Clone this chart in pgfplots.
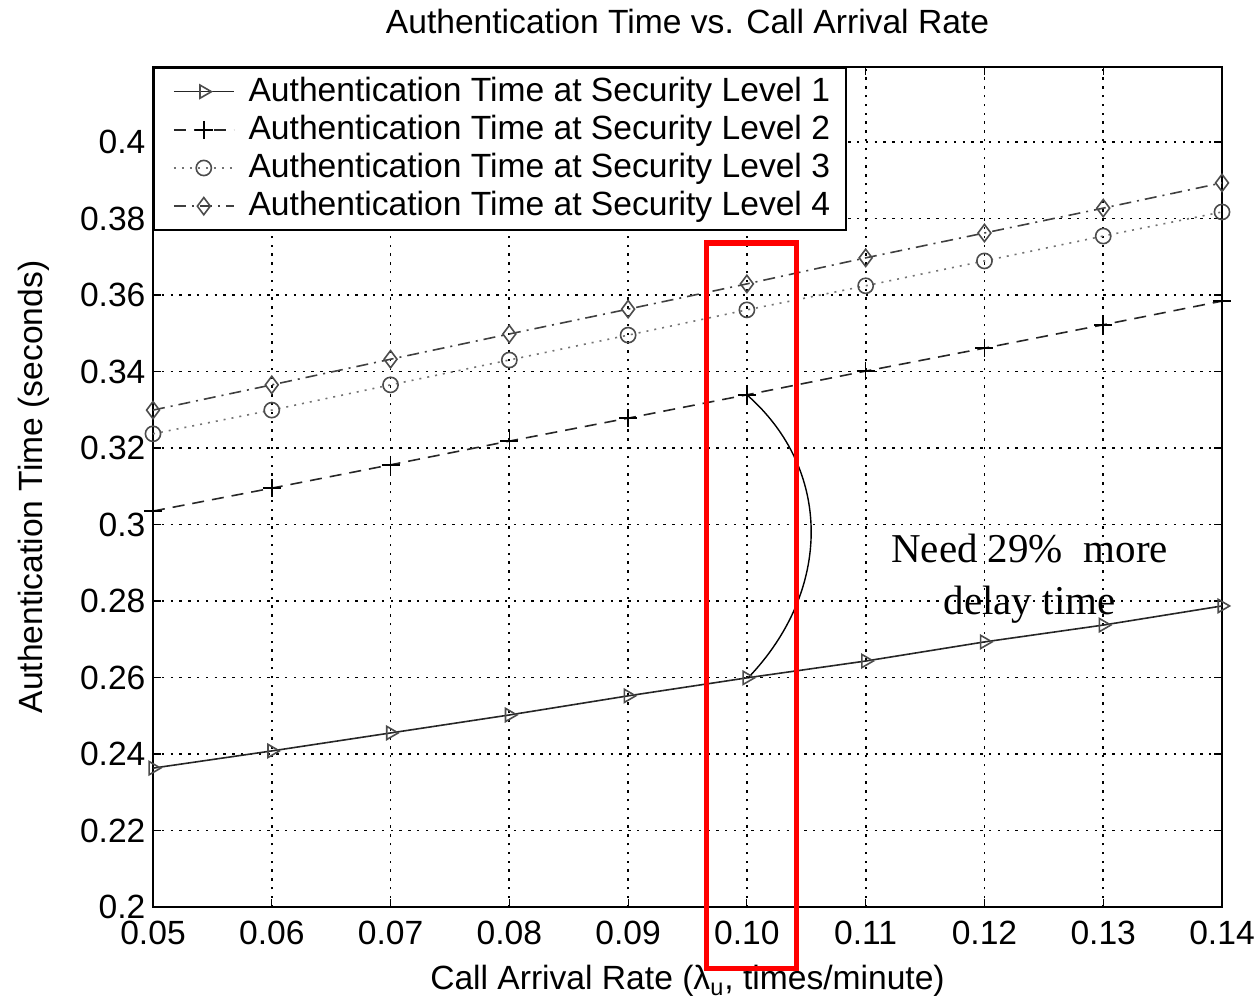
\documentclass[border=0pt]{standalone}
\usepackage{fontspec}
\setmainfont{Liberation Sans}
\newfontfamily\timesfont{Liberation Serif}
\usepackage{pgfplots}
\pgfplotsset{compat=1.18}
\begin{document}
\fontsize{16.8bp}{20bp}\selectfont
\begin{tikzpicture}
\begin{axis}[
  scale only axis,
  width=534.5bp, height=420bp,
  xmin=0.05, xmax=0.14, ymin=0.2, ymax=0.4196,
  xtick={0.05,0.06,0.07,0.08,0.09,0.10,0.11,0.12,0.13,0.14},
  xticklabels={0.05,0.06,0.07,0.08,0.09,0.10,0.11,0.12,0.13,0.14},
  ytick={0.2,0.22,0.24,0.26,0.28,0.3,0.32,0.34,0.36,0.38,0.4},
  yticklabels={0.2,0.22,0.24,0.26,0.28,0.3,0.32,0.34,0.36,0.38,0.4},
  /pgf/number format/assume math mode=true,
  tick align=inside, major tick length=4bp,
  tick style={black, line width=0.6bp},
  axis line style={black, line width=1bp},
  grid=major,
  major grid style={black, line width=0.85bp, dash pattern=on 1.2bp off 3.2bp},
  title={Authentication Time vs. Call Arrival Rate},
  title style={at={(axis description cs:0.5,1)}, anchor=base, yshift=11bp},
  xlabel={Call Arrival Rate (λ\textsubscript{u}, times/minute)},
  xlabel style={at={(axis description cs:0.5,-0.0988)}, anchor=base},
  ylabel={Authentication Time (seconds)},
  ylabel style={at={(axis description cs:-0.1029,0.5)}, anchor=base},
  xticklabel style={yshift=-1bp},
  yticklabel style={xshift=2bp},
  legend style={at={(axis description cs:0,1)}, anchor=north west, draw=black, line width=1bp,
    inner xsep=6bp, inner ysep=2.5bp, row sep=0.4bp, cells={anchor=west},
    /tikz/every odd column/.append style={column sep=5bp}},
  legend cell align=left,
  legend image code/.code={\path (0bp,0bp); \draw[mark repeat=2,mark phase=2] plot coordinates {(3.5bp,0bp) (18.5bp,0bp) (33.5bp,0bp)};},
]
\addplot[black!85, line width=0.8bp, mark=triangle, mark size=3.8bp, mark options={solid, rotate=-90, black!70, line width=0.8bp}]
coordinates {(0.05,0.2363) (0.06,0.2408) (0.07,0.2455) (0.08,0.2502) (0.09,0.2552) (0.10,0.2599) (0.11,0.2643) (0.12,0.2693) (0.13,0.2737) (0.14,0.2787)};
\addlegendentry{Authentication Time at Security Level 1}
\addplot[black!85, line width=0.8bp, dash pattern=on 6bp off 4bp, mark=+, mark size=4.5bp, mark options={solid, black, line width=0.8bp}]
coordinates {(0.05,0.3035) (0.06,0.3095) (0.07,0.3156) (0.08,0.3218) (0.09,0.3278) (0.10,0.3339) (0.11,0.3401) (0.12,0.3461) (0.13,0.3522) (0.14,0.3584)};
\addlegendentry{Authentication Time at Security Level 2}
\addplot[black!55, line width=0.8bp, dash pattern=on 1bp off 3bp, mark=o, mark size=3.8bp, mark options={solid, black!70, line width=0.8bp}]
coordinates {(0.05,0.3237) (0.06,0.3299) (0.07,0.3365) (0.08,0.3430) (0.09,0.3495) (0.10,0.3561) (0.11,0.3624) (0.12,0.3689) (0.13,0.3754) (0.14,0.3817)};
\addlegendentry{Authentication Time at Security Level 3}
\addplot[black!75, line width=0.8bp, dash pattern=on 6bp off 3bp on 1bp off 3bp, mark=diamond, mark size=4.3bp, mark options={solid, black!70, line width=0.8bp}]
coordinates {(0.05,0.3299) (0.06,0.3365) (0.07,0.3432) (0.08,0.3498) (0.09,0.3563) (0.10,0.3629) (0.11,0.3697) (0.12,0.3762) (0.13,0.3827) (0.14,0.3893)};
\addlegendentry{Authentication Time at Security Level 4}
\draw[black, line width=0.7bp] (axis cs:0.10,0.3339) .. controls (axis cs:0.1072,0.3143) and (axis cs:0.1072,0.2829) .. (axis cs:0.1001,0.2599);
\node[font=\timesfont\fontsize{20.5bp}{26bp}\selectfont, align=center] at (axis cs:0.1238,0.2857) {Need 29\%\ \ more\\delay time};
\coordinate (rA) at (axis cs:0.0966,0.3736);
\coordinate (rB) at (axis cs:0.1042,0.184);
\coordinate (bbSW) at (rel axis cs:0,0);
\coordinate (bbNE) at (rel axis cs:1,1);
\end{axis}
\draw[red, line width=2.6bp] (rA) rectangle (rB);
\pgfresetboundingbox
\path[use as bounding box] ([shift={(-76.5bp,-49.5bp)}]bbSW) rectangle ([shift={(19bp,33.5bp)}]bbNE);
\end{tikzpicture}
\end{document}
